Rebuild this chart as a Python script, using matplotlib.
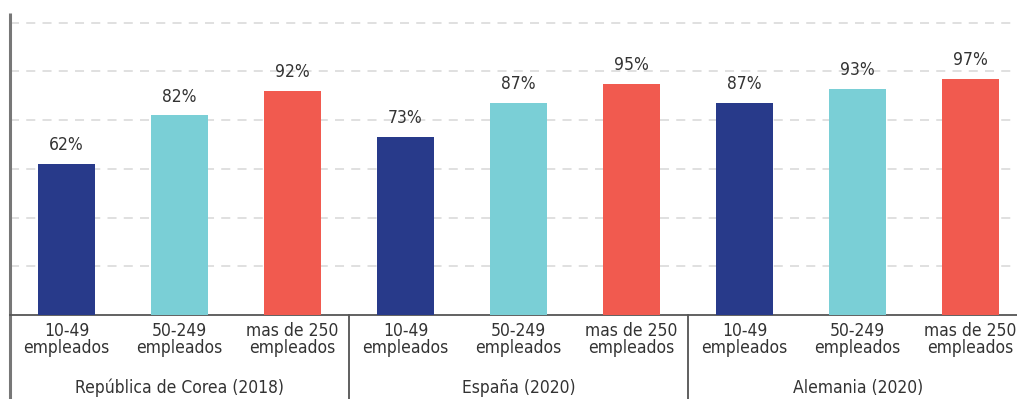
import matplotlib.pyplot as plt
import matplotlib.transforms as mtransforms
from matplotlib import font_manager

# fuente estrecha si existe
nombres = {f.name for f in font_manager.fontManager.ttflist}
estrechas = [n for n in ["Liberation Sans Narrow", "DejaVu Sans Condensed"] if n in nombres]
plt.rcParams['font.family'] = estrechas + ['DejaVu Sans']
plt.rcParams['font.stretch'] = 'condensed'

# datos
paises = ["República de Corea (2018)", "España (2020)", "Alemania (2020)"]
tamanos = ["10-49\nempleados", "50-249\nempleados", "mas de 250\nempleados"]
corea = [62, 82, 92]
espana = [73, 87, 95]
alemania = [87, 93, 97]
colores = ["#283A8A", "#7ACFD6", "#F15A4F"]

valores = corea + espana + alemania
etiquetas = tamanos * len(paises)
x = list(range(len(valores)))
bar_colors = colores * len(paises)

W, H = 1017, 399
fig = plt.figure(figsize=(W / 100, H / 100), dpi=100)
ax = fig.add_axes([10 / W, 84 / H, 1 - 10 / W, (315 - 13) / H])

ax.bar(x, valores, width=0.5, color=bar_colors, zorder=3)

for xi, v in zip(x, valores):
    ax.annotate(f"{v}%", (xi, v), xytext=(0, 7), textcoords="offset points",
                ha="center", va="bottom", fontsize=12.5, color="#333333")

ax.set_xlim(-0.5, 8.41)
ax.set_ylim(0, 124)
ax.set_yticks([20, 40, 60, 80, 100, 120])
ax.yaxis.grid(True, color="#dddddd", linestyle=(0, (5, 4)), linewidth=1.3, zorder=0)
ax.tick_params(axis="y", length=0, labelleft=False)
ax.set_xticks([])

for s in ["top", "right", "left"]:
    ax.spines[s].set_visible(False)
ax.spines["bottom"].set_color("#555555")
ax.spines["bottom"].set_linewidth(1.3)

trans = mtransforms.blended_transform_factory(ax.transData, ax.transAxes)
y_min = -84 / 302

# eje izquierdo y separadores de grupo
ax.plot([-0.5, -0.5], [y_min, 1], transform=trans, color="#777777",
        linewidth=2.2, clip_on=False, solid_capstyle="butt")
for sep in [2.5, 5.5]:
    ax.plot([sep, sep], [y_min, 0], transform=trans, color="#444444",
            linewidth=1.2, clip_on=False)

for xi, lab in zip(x, etiquetas):
    ax.text(xi, -7 / 302, lab, transform=trans, ha="center", va="top",
            fontsize=12.5, color="#333333", linespacing=0.95)

for i, p in enumerate(paises):
    ax.text(3 * i + 1, -73 / 302, p, transform=trans, ha="center", va="center",
            fontsize=12.5, color="#333333")

fig.savefig("out.png", dpi=100)
